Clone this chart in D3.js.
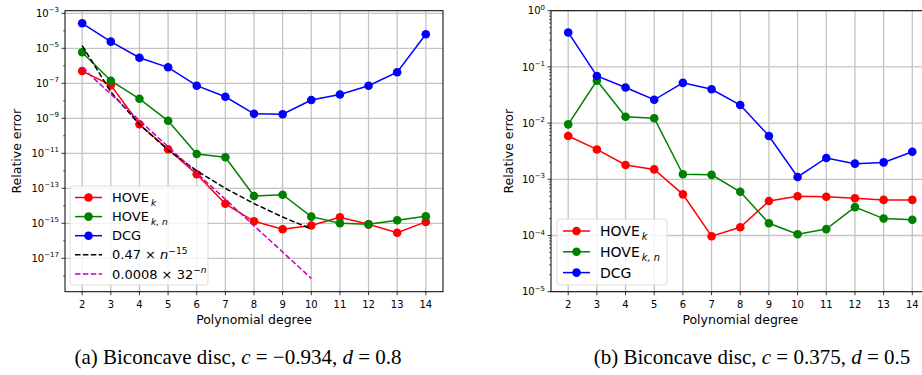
<!DOCTYPE html>
<html><head><meta charset="utf-8">
<script src="https://cdn.jsdelivr.net/npm/d3@7"></script>
<style>
html,body{margin:0;padding:0;background:#fff;}
svg{display:block;}
text{font-family:"DejaVu Sans",sans-serif;fill:#000;}
</style></head>
<body>
<svg id="chart" width="922" height="375"></svg>
<script>
// ---------- DATA ----------
const degrees = [2,3,4,5,6,7,8,9,10,11,12,13,14];
const refDegrees = [2,3,4,5,6,7,8,9,10];

// Panel (a)
const aHoveK  = [5.0e-7, 7.9e-8, 4.6e-10, 1.7e-11, 6.3e-13, 1.3e-14, 1.3e-15, 4.6e-16, 7.4e-16, 2.2e-15, 8.7e-16, 2.9e-16, 1.2e-15];
const aHoveKN = [5.9e-6, 1.4e-7, 1.3e-8, 7.2e-10, 9.1e-12, 5.9e-12, 3.6e-14, 4.3e-14, 2.4e-15, 1.0e-15, 8.7e-16, 1.5e-15, 2.5e-15];
const aDCG    = [2.7e-4, 2.4e-5, 2.9e-6, 8.2e-7, 7.3e-8, 1.7e-8, 1.8e-9, 1.7e-9, 1.1e-8, 2.3e-8, 7.2e-8, 4.3e-7, 6.3e-5];
const aRefPow = [1.43e-5, 3.27e-8, 4.38e-10, 1.54e-11, 1.0e-12, 9.9e-14, 1.34e-14, 2.28e-15, 4.7e-16];
const aRefExp = [7.8e-7, 2.44e-8, 7.6e-10, 2.38e-11, 7.45e-13, 2.33e-14, 7.28e-16, 2.27e-17, 7.1e-19];
const aYTickExps = [-3,-5,-7,-9,-11,-13,-15,-17];
const aYMinorExps = [-4,-6,-8,-10,-12,-14,-16,-18];

// Panel (b)
const bHoveK  = [5.9e-3, 3.4e-3, 1.8e-3, 1.5e-3, 5.4e-4, 9.7e-5, 1.4e-4, 4.1e-4, 5.0e-4, 4.9e-4, 4.6e-4, 4.3e-4, 4.3e-4];
const bHoveKN = [9.5e-3, 5.7e-2, 1.3e-2, 1.22e-2, 1.23e-3, 1.2e-3, 6.0e-4, 1.65e-4, 1.05e-4, 1.3e-4, 3.2e-4, 2.0e-4, 1.9e-4];
const bDCG    = [0.41, 0.069, 0.043, 0.026, 0.052, 0.040, 0.021, 5.9e-3, 1.1e-3, 2.4e-3, 1.9e-3, 2.0e-3, 3.1e-3];
const bYTickExps = [0,-1,-2,-3,-4,-5];

const xTicks = degrees;
const captionA = {pre:"(a) Biconcave disc, ", c:"c", cval:" = \u22120.934, ", d:"d", dval:" = 0.8"};
const captionB = {pre:"(b) Biconcave disc, ", c:"c", cval:" = 0.375, ", d:"d", dval:" = 0.5"};

// ---------- DRAW ----------
const svg = d3.select("#chart");
const RED="#ff0000", GREEN="#008000", BLUE="#0000ff", BLACK="#000000", MAG="#bf00bf";

function supLabel(sel, base, sup, fs, supfs){
  sel.append("tspan").text(base);
  sel.append("tspan").attr("dy", -fs*0.45).attr("font-size", supfs).text(sup);
}

function panel(cfg){
  const g = svg.append("g");
  const x = d3.scaleLinear().domain([1.4,14.6]).range([cfg.left, cfg.right]);
  const y = d3.scaleLog().domain(cfg.ydom).range([cfg.bottom, cfg.top]);

  // grid
  g.selectAll(".vg").data(xTicks).enter().append("line")
    .attr("x1", d=>x(d)).attr("x2", d=>x(d)).attr("y1", cfg.top).attr("y2", cfg.bottom)
    .attr("stroke","#c4c4c4").attr("stroke-width",1.3);
  g.selectAll(".hg").data(cfg.yTickExps).enter().append("line")
    .attr("x1", cfg.left).attr("x2", cfg.right).attr("y1", d=>y(Math.pow(10,d))).attr("y2", d=>y(Math.pow(10,d)))
    .attr("stroke","#c4c4c4").attr("stroke-width",1.3);

  // series
  const line = d3.line().x(d=>x(d[0])).y(d=>y(d[1]));
  cfg.series.forEach(s=>{
    const pts = s.xs.map((d,i)=>[d, s.vals[i]]);
    g.append("path").attr("d", line(pts)).attr("fill","none").attr("stroke", s.color)
      .attr("stroke-width",1.5).attr("stroke-dasharray", s.dash ? "5.5,2.4" : null);
    if(s.marker){
      g.selectAll(null).data(pts).enter().append("circle")
        .attr("cx", d=>x(d[0])).attr("cy", d=>y(d[1])).attr("r",4.3).attr("fill", s.color);
    }
  });

  // spines
  g.append("rect").attr("x",cfg.left).attr("y",cfg.top).attr("width",cfg.right-cfg.left).attr("height",cfg.bottom-cfg.top)
    .attr("fill","none").attr("stroke","#000").attr("stroke-width",1);

  // x ticks
  xTicks.forEach(t=>{
    g.append("line").attr("x1",x(t)).attr("x2",x(t)).attr("y1",cfg.bottom).attr("y2",cfg.bottom+3.5).attr("stroke","#000").attr("stroke-width",0.8);
    g.append("text").attr("x",x(t)).attr("y",cfg.bottom+16).attr("text-anchor","middle").attr("font-size",10).text(t);
  });
  // y ticks
  cfg.yTickExps.forEach(e=>{
    const yy = y(Math.pow(10,e));
    g.append("line").attr("x1",cfg.left-3.5).attr("x2",cfg.left).attr("y1",yy).attr("y2",yy).attr("stroke","#000").attr("stroke-width",0.8);
    const t = g.append("text").attr("x",cfg.left-6).attr("y",yy+3.6).attr("text-anchor","end").attr("font-size",10);
    supLabel(t, "10", e<0 ? "\u2212"+(-e) : String(e), 10, 7);
  });
  cfg.minorVals.forEach(v=>{
    const yy = y(v);
    g.append("line").attr("x1",cfg.left-2).attr("x2",cfg.left).attr("y1",yy).attr("y2",yy).attr("stroke","#000").attr("stroke-width",0.6);
  });

  // axis labels
  g.append("text").attr("x",(cfg.left+cfg.right)/2).attr("y",cfg.bottom+32).attr("text-anchor","middle").attr("font-size",12.5).text("Polynomial degree");
  g.append("text").attr("transform",`translate(${cfg.ylabX},${(cfg.top+cfg.bottom)/2}) rotate(-90)`).attr("text-anchor","middle").attr("font-size",12.5).text("Relative error");

  // legend
  const L = cfg.legend;
  g.append("rect").attr("x",L.x).attr("y",L.y).attr("width",L.w).attr("height",L.h).attr("rx",3)
    .attr("fill","#fff").attr("fill-opacity",0.8).attr("stroke","#d6d6d6").attr("stroke-width",0.8);
  L.items.forEach((it,i)=>{
    const yy = L.row0 + i*L.dy;
    g.append("line").attr("x1",L.hx).attr("x2",L.hx+27).attr("y1",yy).attr("y2",yy).attr("stroke",it.color)
      .attr("stroke-width",1.5).attr("stroke-dasharray", it.dash ? "5.5,2.4" : null);
    if(it.marker) g.append("circle").attr("cx",L.hx+13.5).attr("cy",yy).attr("r",4.3).attr("fill",it.color);
    const t = g.append("text").attr("x",L.hx+37).attr("y",yy+L.fs*0.36).attr("font-size",L.fs);
    it.render(t, L.fs);
  });
}

function subLabel(base, sub){
  return (t, fs)=>{
    t.append("tspan").text(base);
    t.append("tspan").attr("dx",2).attr("dy",fs*0.3).attr("font-size",fs*0.7).attr("font-style","italic").text(sub);
  };
}
const legendItems = [
  {color:RED, marker:true, render:subLabel("HOVE","k")},
  {color:GREEN, marker:true, render:subLabel("HOVE","k, n")},
  {color:BLUE, marker:true, render:(t)=>t.text("DCG")},
  {color:BLACK, dash:true, render:(t,fs)=>{
    t.append("tspan").text("0.47 \u00d7 ");
    t.append("tspan").attr("font-style","italic").text("n");
    t.append("tspan").attr("dy",-fs*0.42).attr("font-size",fs*0.7).text("\u221215");
  }},
  {color:MAG, dash:true, render:(t,fs)=>{
    t.append("tspan").text("0.0008 \u00d7 32");
    t.append("tspan").attr("dy",-fs*0.42).attr("font-size",fs*0.7).text("\u2212");
    t.append("tspan").attr("font-size",fs*0.7).attr("font-style","italic").text("n");
  }}
];

const aMinor = aYMinorExps.map(e=>Math.pow(10,e));
const bMinor = [];
for(let e=-5;e<0;e++){ for(let m=2;m<=9;m++) bMinor.push(m*Math.pow(10,e)); }

panel({
  left:65, right:443, top:10.7, bottom:291.7,
  ydom:[Math.pow(10,-18.91), Math.pow(10,-2.851)],
  yTickExps:aYTickExps, minorVals:aMinor, ylabX:21,
  series:[
    {xs:degrees, vals:aHoveK, color:RED, marker:true},
    {xs:degrees, vals:aHoveKN, color:GREEN, marker:true},
    {xs:degrees, vals:aDCG, color:BLUE, marker:true},
    {xs:refDegrees, vals:aRefPow, color:BLACK, dash:true},
    {xs:refDegrees, vals:aRefExp, color:MAG, dash:true}
  ],
  legend:{x:70, y:186, w:138, h:99, hx:75, row0:197.5, dy:19.1, fs:13, items:legendItems}
});

panel({
  left:551, right:929.5, top:10.7, bottom:291.7,
  ydom:[1e-5, 1],
  yTickExps:bYTickExps, minorVals:bMinor, ylabX:513,
  series:[
    {xs:degrees, vals:bHoveK, color:RED, marker:true},
    {xs:degrees, vals:bHoveKN, color:GREEN, marker:true},
    {xs:degrees, vals:bDCG, color:BLUE, marker:true}
  ],
  legend:{x:557, y:219, w:110, h:66, hx:563, row0:231, dy:20.8, fs:14, items:legendItems.slice(0,3)}
});

// captions
function caption(cap, cx){
  const t = svg.append("text").attr("x",cx).attr("y",364).attr("text-anchor","middle")
    .attr("font-size",21).style("font-family","'Liberation Serif', 'Times New Roman', serif");
  t.append("tspan").text(cap.pre);
  t.append("tspan").attr("font-style","italic").text(cap.c);
  t.append("tspan").text(cap.cval);
  t.append("tspan").attr("font-style","italic").text(cap.d);
  t.append("tspan").text(cap.dval);
}
caption(captionA, 238);
caption(captionB, 752);
</script>
</body></html>
